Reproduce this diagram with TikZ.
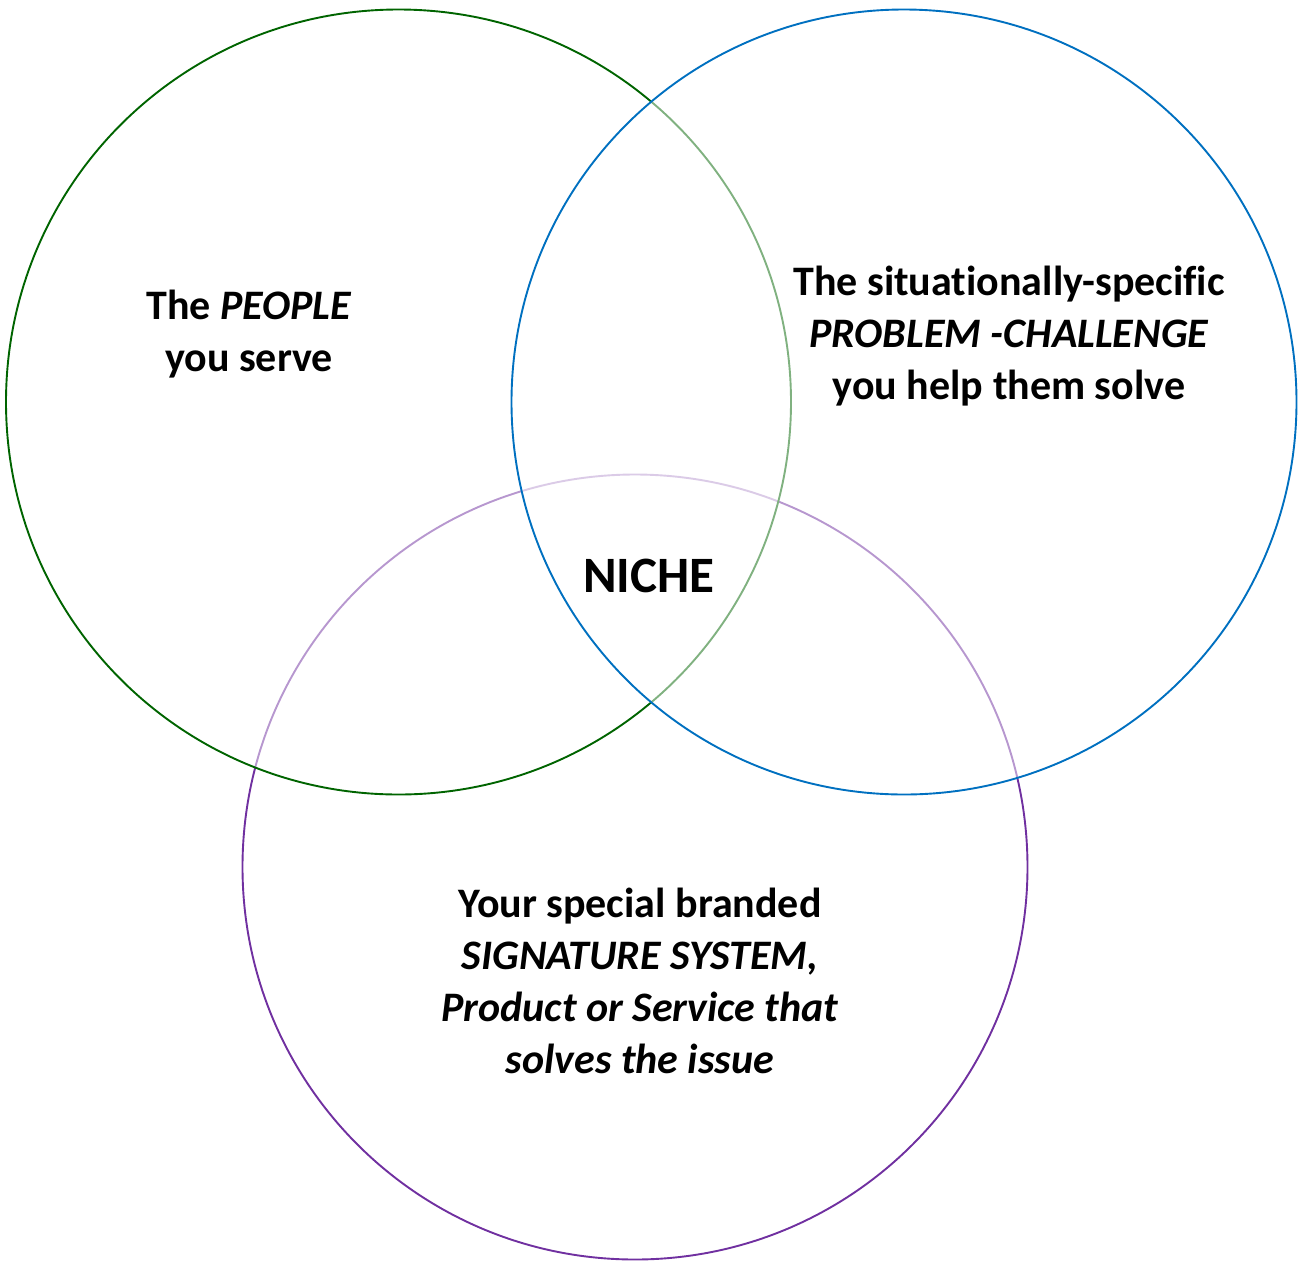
\documentclass[tikz,border=0pt]{standalone}
\usepackage{fontspec}
\setmainfont[Ligatures=NoCommon]{Carlito}
\definecolor{peoplegreen}{RGB}{0,100,0}
\definecolor{problemblue}{RGB}{0,112,192}
\definecolor{systempurple}{RGB}{112,48,160}

\begin{document}
\begin{tikzpicture}[x=1pt, y=-1pt,
	setnode/.style = {circle, draw, fill=white, fill opacity=0.5, line width=1.9pt, minimum size=785pt, inner sep=0pt},
	textnode/.style = {align=center, font=\fontsize{42}{52}\selectfont\bfseries, inner sep=0pt, anchor=base},
]
\useasboundingbox (0,0) rectangle (1304,1262);

% the three sets, lowest first
\node[setnode, draw=systempurple] (system) at (635,867) {};
\node[setnode, draw=peoplegreen] (people) at (398.5,402) {};
\node[setnode, draw=problemblue] (problem) at (904,402) {};

% base anchor sits on the last line
\node[textnode] (peopletext) at (249,371) {The \textit{PEOPLE}\\ you serve};
\node[textnode] (problemtext) at (1009,399) {The situationally-specific\\ \textit{PROBLEM -CHALLENGE}\\ you help them solve};
\node[textnode] (systemtext) at (640,1073) {Your special branded\\ \textit{SIGNATURE SYSTEM,}\\ \textit{Product or Service that}\\ \textit{solves the issue}};
\node[textnode, font=\fontsize{51}{60}\selectfont\bfseries] (niche) at (649,592) {NICHE};

\end{tikzpicture}
\end{document}
